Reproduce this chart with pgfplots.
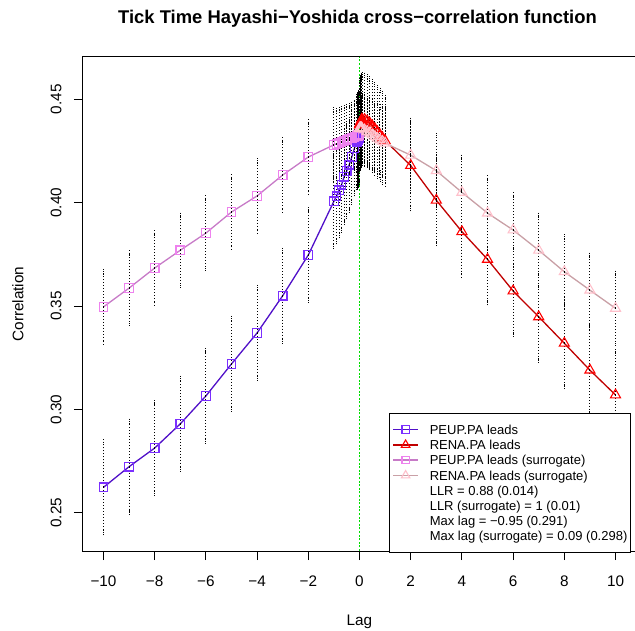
\documentclass[border=0pt]{standalone}
\usepackage{pgfplots}
\pgfplotsset{compat=1.18}
\usepackage{pgfplotstable}
\usepackage{fontspec}
\setmainfont{Liberation Sans}

\definecolor{peupM}{HTML}{7B2FFF}
\definecolor{peupL}{HTML}{5010C8}
\definecolor{renaM}{HTML}{FF0000}
\definecolor{renaL}{HTML}{C00000}
\definecolor{speupM}{HTML}{EE82EE}
\definecolor{speupL}{HTML}{C77AC7}
\definecolor{srenaM}{HTML}{FFC0CB}
\definecolor{srenaL}{HTML}{C9A0A6}
\definecolor{vgreen}{HTML}{00DD00}

\pgfplotstableread{
x y e
-10 0.2623 0.022
-9 0.2723 0.022
-8 0.2813 0.022
-7 0.2930 0.022
-6 0.3065 0.022
-5 0.3220 0.022
-4 0.3370 0.022
-3 0.3550 0.022
-2 0.3747 0.022
-1 0.4007 0.022
-0.9 0.4031 0.022
-0.8 0.4060 0.022
-0.7 0.4087 0.022
-0.6 0.4126 0.022
-0.5 0.4153 0.022
-0.4 0.4184 0.022
-0.3 0.4222 0.022
-0.2 0.4263 0.022
-0.1 0.4293 0.022
-0.09 0.4296 0.022
-0.08 0.4299 0.022
-0.07 0.4302 0.022
-0.06 0.4305 0.022
-0.05 0.4308 0.022
-0.04 0.4311 0.022
-0.03 0.4314 0.022
-0.02 0.4316 0.022
-0.01 0.4318 0.022
0 0.4320 0.022
}\peup

\pgfplotstableread{
x y e
0 0.4375 0.0215
0.01 0.4378 0.0215
0.02 0.4381 0.0215
0.03 0.4384 0.0215
0.04 0.4387 0.0215
0.05 0.4390 0.0215
0.06 0.4393 0.0215
0.07 0.4396 0.0215
0.08 0.4399 0.0215
0.09 0.4402 0.0215
0.1 0.4404 0.0215
0.2 0.4402 0.0215
0.3 0.4395 0.0215
0.4 0.4385 0.0215
0.5 0.4372 0.0215
0.6 0.4358 0.0215
0.7 0.4343 0.0215
0.8 0.4328 0.0215
0.9 0.4314 0.0215
1 0.4300 0.021
2 0.4180 0.021
3 0.4012 0.021
4 0.3860 0.021
5 0.3726 0.021
6 0.3573 0.021
7 0.3448 0.021
8 0.3320 0.021
9 0.3190 0.021
10 0.3070 0.021
}\rena

\pgfplotstableread{
x y e
-10 0.3496 0.017
-9 0.3587 0.017
-8 0.3684 0.017
-7 0.3770 0.017
-6 0.3853 0.017
-5 0.3955 0.017
-4 0.4033 0.017
-3 0.4134 0.017
-2 0.4221 0.017
-1 0.4280 0.017
-0.9 0.4285 0.016
-0.8 0.4290 0.016
-0.7 0.4295 0.016
-0.6 0.4300 0.016
-0.5 0.4305 0.016
-0.4 0.4310 0.016
-0.3 0.4314 0.016
-0.2 0.4318 0.016
-0.1 0.4322 0.016
-0.09 0.4323 0.016
-0.08 0.4324 0.016
-0.07 0.4324 0.016
-0.06 0.4325 0.016
-0.05 0.4326 0.016
-0.04 0.4327 0.016
-0.03 0.4327 0.016
-0.02 0.4328 0.016
-0.01 0.4329 0.016
0 0.4330 0.016
}\speup

\pgfplotstableread{
x y e
0 0.4360 0.016
0.01 0.4360 0.016
0.02 0.4360 0.016
0.03 0.4361 0.016
0.04 0.4361 0.016
0.05 0.4361 0.016
0.06 0.4361 0.016
0.07 0.4361 0.016
0.08 0.4360 0.016
0.09 0.4360 0.016
0.1 0.4358 0.016
0.2 0.4352 0.016
0.3 0.4345 0.016
0.4 0.4337 0.016
0.5 0.4328 0.016
0.6 0.4320 0.016
0.7 0.4312 0.016
0.8 0.4304 0.016
0.9 0.4296 0.016
1 0.4288 0.017
2 0.4230 0.017
3 0.4155 0.017
4 0.4050 0.017
5 0.3950 0.017
6 0.3868 0.017
7 0.3770 0.017
8 0.3666 0.017
9 0.3577 0.017
10 0.3489 0.017
}\srena

\pgfplotsset{
  ebars/.style={draw=none, mark=none, forget plot,
    error bars/.cd, y dir=both, y explicit,
    error bar style={draw=black, line width=1bp, dash pattern=on 1bp off 2bp},
    error mark options={draw=black, line width=0.9bp, mark size=2.5bp, dash pattern=on 1bp off 1.2bp}},
}

\begin{document}
\begin{tikzpicture}
\begin{axis}[
  scale only axis, width=553bp, height=494bp,
  xmin=-10.8, xmax=10.8, ymin=0.2315, ymax=0.4705,
  xtick={-10,-8,-6,-4,-2,0,2,4,6,8,10},
  xticklabels={−10,−8,−6,−4,−2,0,2,4,6,8,10},
  ytick={0.25,0.30,0.35,0.40,0.45},
  yticklabels={0.25,0.30,0.35,0.40,0.45},
  tick align=outside, major tick length=9bp,
  xtick pos=bottom, ytick pos=left,
  tick style={black, line width=1bp},
  axis line style={line width=1bp},
  ticklabel style={font=\fontsize{15.3bp}{18bp}\selectfont},
  xticklabel style={anchor=base, yshift=-26.5bp},
  yticklabel style={xshift=-12.5bp, rotate=90, anchor=base},
  xlabel={Lag}, ylabel={Correlation},
  every axis x label/.style={at={(axis description cs:0.5,0)}, anchor=base, yshift=-74bp, font=\fontsize{15.3bp}{18bp}\selectfont},
  every axis y label/.style={at={(axis description cs:0,0.5)}, xshift=-59.5bp, rotate=90, anchor=base, font=\fontsize{15.3bp}{18bp}\selectfont},
  title={Tick Time Hayashi−Yoshida cross−correlation function},
  every axis title/.style={at={(axis description cs:0.5,1)}, anchor=base, xshift=-2bp, yshift=33bp, font=\bfseries\fontsize{18.4bp}{22bp}\selectfont},
  legend style={at={(axis description cs:0.5533,0.2794)}, anchor=north west,
    draw=black, line width=1bp, inner xsep=3bp, inner ysep=11.35bp,
    row sep=5.84bp, column sep=11bp,
    font=\fontsize{13bp}{15bp}\selectfont,
    nodes={inner sep=0pt, text height=9.3bp, text depth=0pt, font=\fontsize{13bp}{15bp}\selectfont}},
  legend cell align=left,
  legend image code/.code={\draw[mark repeat=2,mark phase=2,#1] plot coordinates {(0bp,0bp) (12.5bp,0bp) (25bp,0bp)};},
  legend image post style={/tikz/every mark/.append style={scale=0.85}},
]
\addplot[forget plot, draw=vgreen, line width=1.6bp, dash pattern=on 2bp off 1.6bp] coordinates {(0,0.2315) (0,0.4705)};
\addplot[peupL, line width=1.3bp, mark=square, mark size=4.3bp, mark options={draw=peupM, fill=white, solid, line width=1.1bp}] table[x=x,y=y] {\peup};
\addlegendentry{PEUP.PA leads}
\addplot[renaL, line width=1.3bp, mark=triangle, mark size=5.8bp, mark options={draw=renaM, fill=white, solid, line width=1.1bp}] table[x=x,y=y] {\rena};
\addlegendentry{RENA.PA leads}
\addplot[speupL, line width=1.3bp, mark=square, mark size=4.3bp, mark options={draw=speupM, fill=white, solid, line width=1.1bp}] table[x=x,y=y] {\speup};
\addlegendentry{PEUP.PA leads (surrogate)}
\addplot[srenaL, line width=1.3bp, mark=triangle, mark size=5.8bp, mark options={draw=srenaM, fill=white, solid, line width=1.1bp}] table[x=x,y=y] {\srena};
\addlegendentry{RENA.PA leads (surrogate)}
\addlegendimage{empty legend}
\addlegendentry{LLR = 0.88 (0.014)}
\addlegendimage{empty legend}
\addlegendentry{LLR (surrogate) = 1 (0.01)}
\addlegendimage{empty legend}
\addlegendentry{Max lag = −0.95 (0.291)}
\addlegendimage{empty legend}
\addlegendentry{Max lag (surrogate) = 0.09 (0.298)\hspace{8bp}}
\addplot[ebars] table[x=x,y=y,y error=e] {\peup};
\addplot[ebars] table[x=x,y=y,y error=e] {\rena};
\addplot[ebars] table[x=x,y=y,y error=e] {\speup};
\addplot[ebars] table[x=x,y=y,y error=e] {\srena};
\end{axis}
\pgfresetboundingbox
\path[use as bounding box] (-83bp,-80bp) rectangle (552bp,551bp);
\end{tikzpicture}
\end{document}
